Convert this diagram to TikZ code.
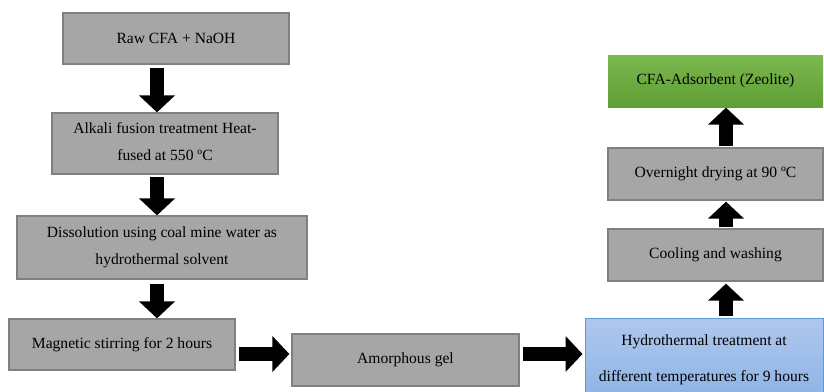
\documentclass[tikz,border=0pt]{standalone}
\usepackage{fontspec}
\setmainfont{Liberation Serif}
\usetikzlibrary{arrows.meta}

\definecolor{boxgray}{HTML}{A6A6A6}
\definecolor{edgegray}{HTML}{808080}
\definecolor{greentop}{HTML}{7BB84E}
\definecolor{greenbot}{HTML}{5F9E36}
\definecolor{bluetop}{HTML}{AEC8EE}
\definecolor{bluebot}{HTML}{8CB2E4}
\definecolor{blueedge}{HTML}{5B9BD5}

\begin{document}
\begin{tikzpicture}[x=1pt, y=-1pt,
  stepbox/.style={draw=edgegray, line width=1.2pt, fill=boxgray, inner sep=0pt, align=center, font=\rmfamily\fontsize{15.6}{27}\selectfont},
  fat/.style={line width=14pt, -{Triangle[width=35pt, length=17pt]}}]

% Fix the size of the page
\useasboundingbox (0,0) rectangle (824,391);
\clip (0,0) rectangle (824,391);

% Define the coordinates the fat arrows run along
\coordinate (lx) at (157,0);
\coordinate (rx) at (726,0);
\coordinate (by) at (0,354);

% Place the boxes of the left column
\node[stepbox, minimum width=226pt, minimum height=51pt] (raw) at (176,38.5) {Raw CFA + NaOH};
\node[stepbox, minimum width=226pt, minimum height=61pt, text depth=4pt] (fusion) at (165,143.5) {Alkali fusion treatment Heat-\\fused at 550 ºC};
\node[stepbox, minimum width=290pt, minimum height=63pt] (dissolve) at (162,247.5) {Dissolution using coal mine water as\\hydrothermal solvent};
\node[stepbox, minimum width=226pt, minimum height=51pt] (stir) at (122,344.5) {Magnetic stirring for 2 hours};

% Place the boxes of the bottom row
\node[stepbox, minimum width=227pt, minimum height=52pt] (gel) at (405.5,360) {Amorphous gel};
\node[stepbox, draw=blueedge, line width=1pt, top color=bluetop, bottom color=bluebot, minimum width=238pt, minimum height=84pt, font=\rmfamily\fontsize{15.6}{36}\selectfont] (hydro) at (704,360) {Hydrothermal treatment at\\different temperatures for 9 hours};

% Place the boxes of the right column
\node[stepbox, minimum width=215pt, minimum height=52pt] (cool) at (715.5,255) {Cooling and washing};
\node[stepbox, minimum width=215pt, minimum height=52pt] (dry) at (715.5,174) {Overnight drying at 90 ºC};
\node[stepbox, draw=none, top color=greentop, bottom color=greenbot, minimum width=215pt, minimum height=52pt] (zeo) at (715.5,81) {CFA-Adsorbent (Zeolite)};

% Draw the fat arrows
\draw[fat, shorten <=3pt] (raw.south -| lx) -- (fusion.north -| lx);
\draw[fat, shorten <=2pt] (fusion.south -| lx) -- (dissolve.north -| lx);
\draw[fat, shorten <=4pt] (dissolve.south -| lx) -- (stir.north -| lx);

\draw[fat, shorten <=3pt, shorten >=2pt] (stir.east |- by) -- (gel.west |- by);
\draw[fat, shorten <=3pt, shorten >=2pt] (gel.east |- by) -- (hydro.west |- by);

\draw[fat, shorten <=2pt, shorten >=2pt] (hydro.north -| rx) -- (cool.south -| rx);
\draw[fat, shorten <=1pt, shorten >=1pt] (cool.north -| rx) -- (dry.south -| rx);
\draw[fat, shorten <=1pt] (dry.north -| rx) -- (zeo.south -| rx);

\end{tikzpicture}
\end{document}
